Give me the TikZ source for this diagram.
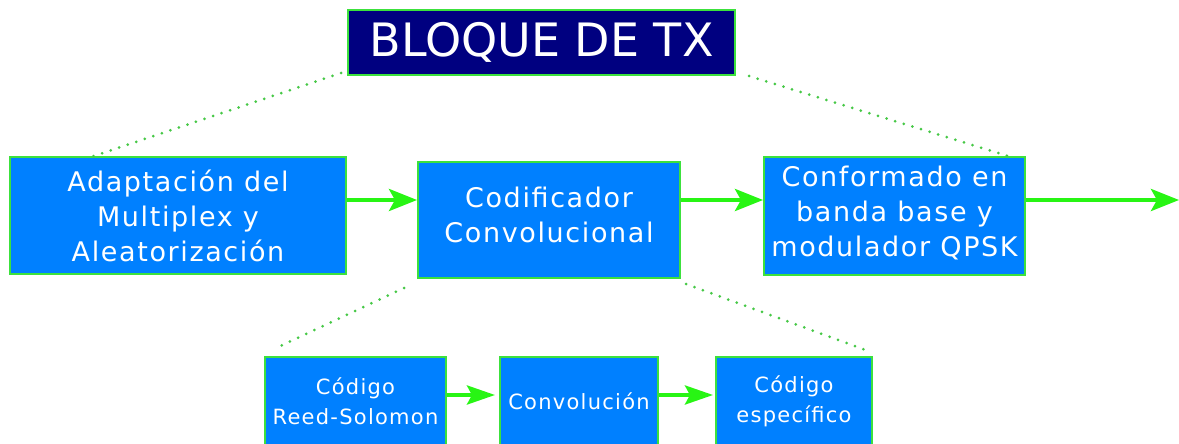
\documentclass[tikz,border=0pt]{standalone}
\usepackage{fontspec}
\setmainfont{DejaVu Sans}
\newfontfamily\boxfont[LetterSpace=6]{DejaVu Sans}
\usetikzlibrary{arrows.meta}
\definecolor{boxblue}{RGB}{0,128,255}
\definecolor{edgegreen}{RGB}{60,225,60}
\definecolor{arrowgreen}{RGB}{40,245,20}
\definecolor{dotgreen}{RGB}{70,200,70}
\definecolor{navyfill}{RGB}{0,0,128}
\tikzset{
  blockbox/.style={draw=edgegreen, line width=2pt, fill=boxblue, text=white,
    align=center, inner sep=0pt, font=\boxfont\fontsize{27}{35}\selectfont},
  smallbox/.style={blockbox, font=\boxfont\fontsize{21}{30}\selectfont},
  titlebox/.style={draw=edgegreen, line width=2pt, fill=navyfill, text=white,
    inner sep=0pt, font=\fontsize{46}{55}\selectfont},
  flow/.style={draw=arrowgreen, line width=4pt,
    -{Stealth[length=28pt,width=22pt,inset=6pt]}},
  smallflow/.style={draw=arrowgreen, line width=4pt,
    -{Stealth[length=28pt,width=19pt,inset=5pt]}},
  dots/.style={draw=dotgreen, line width=3pt, line cap=round,
    dash pattern=on 0pt off 9pt},
}
\begin{document}
\begin{tikzpicture}[x=1pt,y=-1pt]
\clip (0,0) rectangle (1179,444);
\useasboundingbox (0,0) rectangle (1179,444);
\fill[white] (0,0) rectangle (1179,444);

\node[titlebox, minimum width=387pt, minimum height=65pt] (title) at (541.5,42.5) {BLOQUE DE TX};

\node[blockbox, minimum width=336pt, minimum height=117pt] (adapt) at (178,215.5)
  {Adaptación del\\Multiplex y\\Aleatorización};
\node[blockbox, minimum width=262pt, minimum height=116pt] (cod) at (549,220)
  {Codificador\\Convolucional\\[-24pt]};
\node[blockbox, minimum width=261pt, minimum height=118pt] (conf) at (894.5,216)
  {Conformado en\\banda base y\\modulador QPSK\\[-25pt]};

\node[smallbox, minimum width=181pt, minimum height=89pt] (rs) at (355.5,401.5)
  {Código\\Reed-Solomon};
\node[smallbox, minimum width=158pt, minimum height=89pt] (conv) at (579,401.5)
  {Convolución};
\node[smallbox, minimum width=156pt, minimum height=89pt] (spec) at (794,401.5)
  {Código\\específico};

\coordinate (out) at (1179,200);

\draw[flow] ([yshift=15.5pt]adapt.east) -- ([yshift=20pt]cod.west);
\draw[flow] ([yshift=20pt]cod.east) -- ([yshift=16pt]conf.west);
\draw[flow] ([yshift=16pt]conf.east) -- (out);

\draw[smallflow] ([yshift=6.5pt]rs.east) -- ([xshift=-4pt,yshift=6.5pt]conv.west);
\draw[smallflow] ([yshift=6.5pt]conv.east) -- ([xshift=-2pt,yshift=6.5pt]spec.west);

\draw[dots] ([xshift=-6pt,yshift=3pt]title.south west) -- ([xshift=82pt,yshift=-1pt]adapt.north west);
\draw[dots] ([xshift=13pt]title.south east) -- ([xshift=-15pt,yshift=-1pt]conf.north east);
\draw[dots] ([xshift=-13pt,yshift=-9pt]cod.south west) -- ([xshift=10pt,yshift=7pt]rs.north west);
\draw[dots] ([xshift=5pt,yshift=-5pt]cod.south east) -- ([xshift=-2pt,yshift=4pt]spec.north east);
\end{tikzpicture}
\end{document}
